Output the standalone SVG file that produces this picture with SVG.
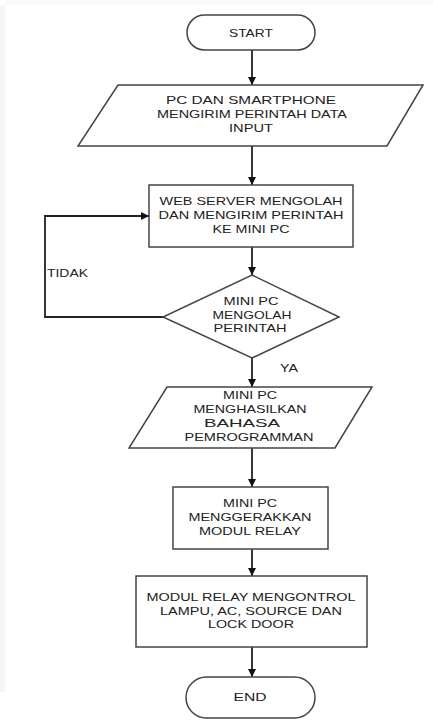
<svg xmlns="http://www.w3.org/2000/svg" width="433" height="720" viewBox="0 0 433 720">
<defs>
<marker id="ah" viewBox="0 0 10 10" refX="10" refY="5" markerWidth="8" markerHeight="8" markerUnits="userSpaceOnUse" orient="auto">
<path d="M0,0 L10,5 L0,10 Z" fill="#111"/>
</marker>
<style>
.s{fill:#fff;stroke:#444;stroke-width:1.5}
.c{fill:none;stroke:#222;stroke-width:1.8}
.t{font-family:"Liberation Sans",Arial,sans-serif;font-size:11.5px;fill:#222;text-anchor:middle;dominant-baseline:central}
</style>
</defs>
<rect x="0" y="0" width="433" height="720" fill="#fff"/>
<rect x="0" y="5" width="5" height="687" fill="#f6f6f6"/>
<rect x="5" y="0" width="428" height="5" fill="#fafafa"/>

<g id="connectors">
<line class="c" x1="252" y1="50" x2="252" y2="85" marker-end="url(#ah)"/>
<line class="c" x1="252" y1="146" x2="252" y2="185" marker-end="url(#ah)"/>
<line class="c" x1="252" y1="247" x2="252" y2="275" marker-end="url(#ah)"/>
<polyline class="c" points="163,317 45,317 45,216 149,216" marker-end="url(#ah)"/>
<line class="c" x1="252" y1="358" x2="252" y2="387" marker-end="url(#ah)"/>
<line class="c" x1="252" y1="448" x2="252" y2="487" marker-end="url(#ah)"/>
<line class="c" x1="252" y1="549" x2="252" y2="576" marker-end="url(#ah)"/>
<line class="c" x1="252" y1="647" x2="252" y2="677" marker-end="url(#ah)"/>
<text class="t" x="47" y="273" style="text-anchor:start" textLength="41" lengthAdjust="spacingAndGlyphs">TIDAK</text>
<text class="t" x="289" y="368" textLength="18" lengthAdjust="spacingAndGlyphs">YA</text>
</g>

<g id="start">
<rect class="s" x="187" y="15" width="128" height="35" rx="17.5"/>
<text class="t" x="251" y="33" textLength="44" lengthAdjust="spacingAndGlyphs">START</text>
</g>

<g id="input">
<polygon class="s" points="118,85 423,85 387,146 78,146"/>
<text class="t" x="251" y="100" textLength="170" lengthAdjust="spacingAndGlyphs">PC DAN SMARTPHONE</text>
<text class="t" x="252" y="114" textLength="190" lengthAdjust="spacingAndGlyphs">MENGIRIM PERINTAH DATA</text>
<text class="t" x="251" y="128" textLength="44" lengthAdjust="spacingAndGlyphs">INPUT</text>
</g>

<g id="webserver">
<rect class="s" x="149" y="185" width="204" height="62"/>
<text class="t" x="251" y="201" textLength="183" lengthAdjust="spacingAndGlyphs">WEB SERVER MENGOLAH</text>
<text class="t" x="251" y="215" textLength="185" lengthAdjust="spacingAndGlyphs">DAN MENGIRIM PERINTAH</text>
<text class="t" x="251" y="229" textLength="77" lengthAdjust="spacingAndGlyphs">KE MINI PC</text>
</g>

<g id="decision">
<polygon class="s" points="252,275 339,317 252,358 163,317"/>
<text class="t" x="251" y="301" textLength="55" lengthAdjust="spacingAndGlyphs">MINI PC</text>
<text class="t" x="252" y="315" textLength="79" lengthAdjust="spacingAndGlyphs">MENGOLAH</text>
<text class="t" x="250" y="328" textLength="73" lengthAdjust="spacingAndGlyphs">PERINTAH</text>
</g>

<g id="output">
<polygon class="s" points="167,387 372,387 335,448 129,448"/>
<text class="t" x="250" y="395" textLength="54" lengthAdjust="spacingAndGlyphs">MINI PC</text>
<text class="t" x="250" y="409" textLength="113" lengthAdjust="spacingAndGlyphs">MENGHASILKAN</text>
<text class="t" x="242" y="423" textLength="76" lengthAdjust="spacingAndGlyphs">BAHASA</text>
<text class="t" x="249" y="437" textLength="129" lengthAdjust="spacingAndGlyphs">PEMROGRAMMAN</text>
</g>

<g id="relay">
<rect class="s" x="173" y="487" width="155" height="62"/>
<text class="t" x="250" y="503" textLength="54" lengthAdjust="spacingAndGlyphs">MINI PC</text>
<text class="t" x="250" y="517" textLength="123" lengthAdjust="spacingAndGlyphs">MENGGERAKKAN</text>
<text class="t" x="250" y="531" textLength="102" lengthAdjust="spacingAndGlyphs">MODUL RELAY</text>
</g>

<g id="control">
<rect class="s" x="136" y="576" width="231" height="71"/>
<text class="t" x="251" y="597" textLength="209" lengthAdjust="spacingAndGlyphs">MODUL RELAY MENGONTROL</text>
<text class="t" x="251" y="611" textLength="182" lengthAdjust="spacingAndGlyphs">LAMPU, AC, SOURCE DAN</text>
<text class="t" x="251" y="624" textLength="86" lengthAdjust="spacingAndGlyphs">LOCK DOOR</text>
</g>

<g id="end">
<rect class="s" x="186" y="677" width="129" height="41" rx="20.5"/>
<text class="t" x="250" y="697" textLength="33" lengthAdjust="spacingAndGlyphs">END</text>
</g>
</svg>
